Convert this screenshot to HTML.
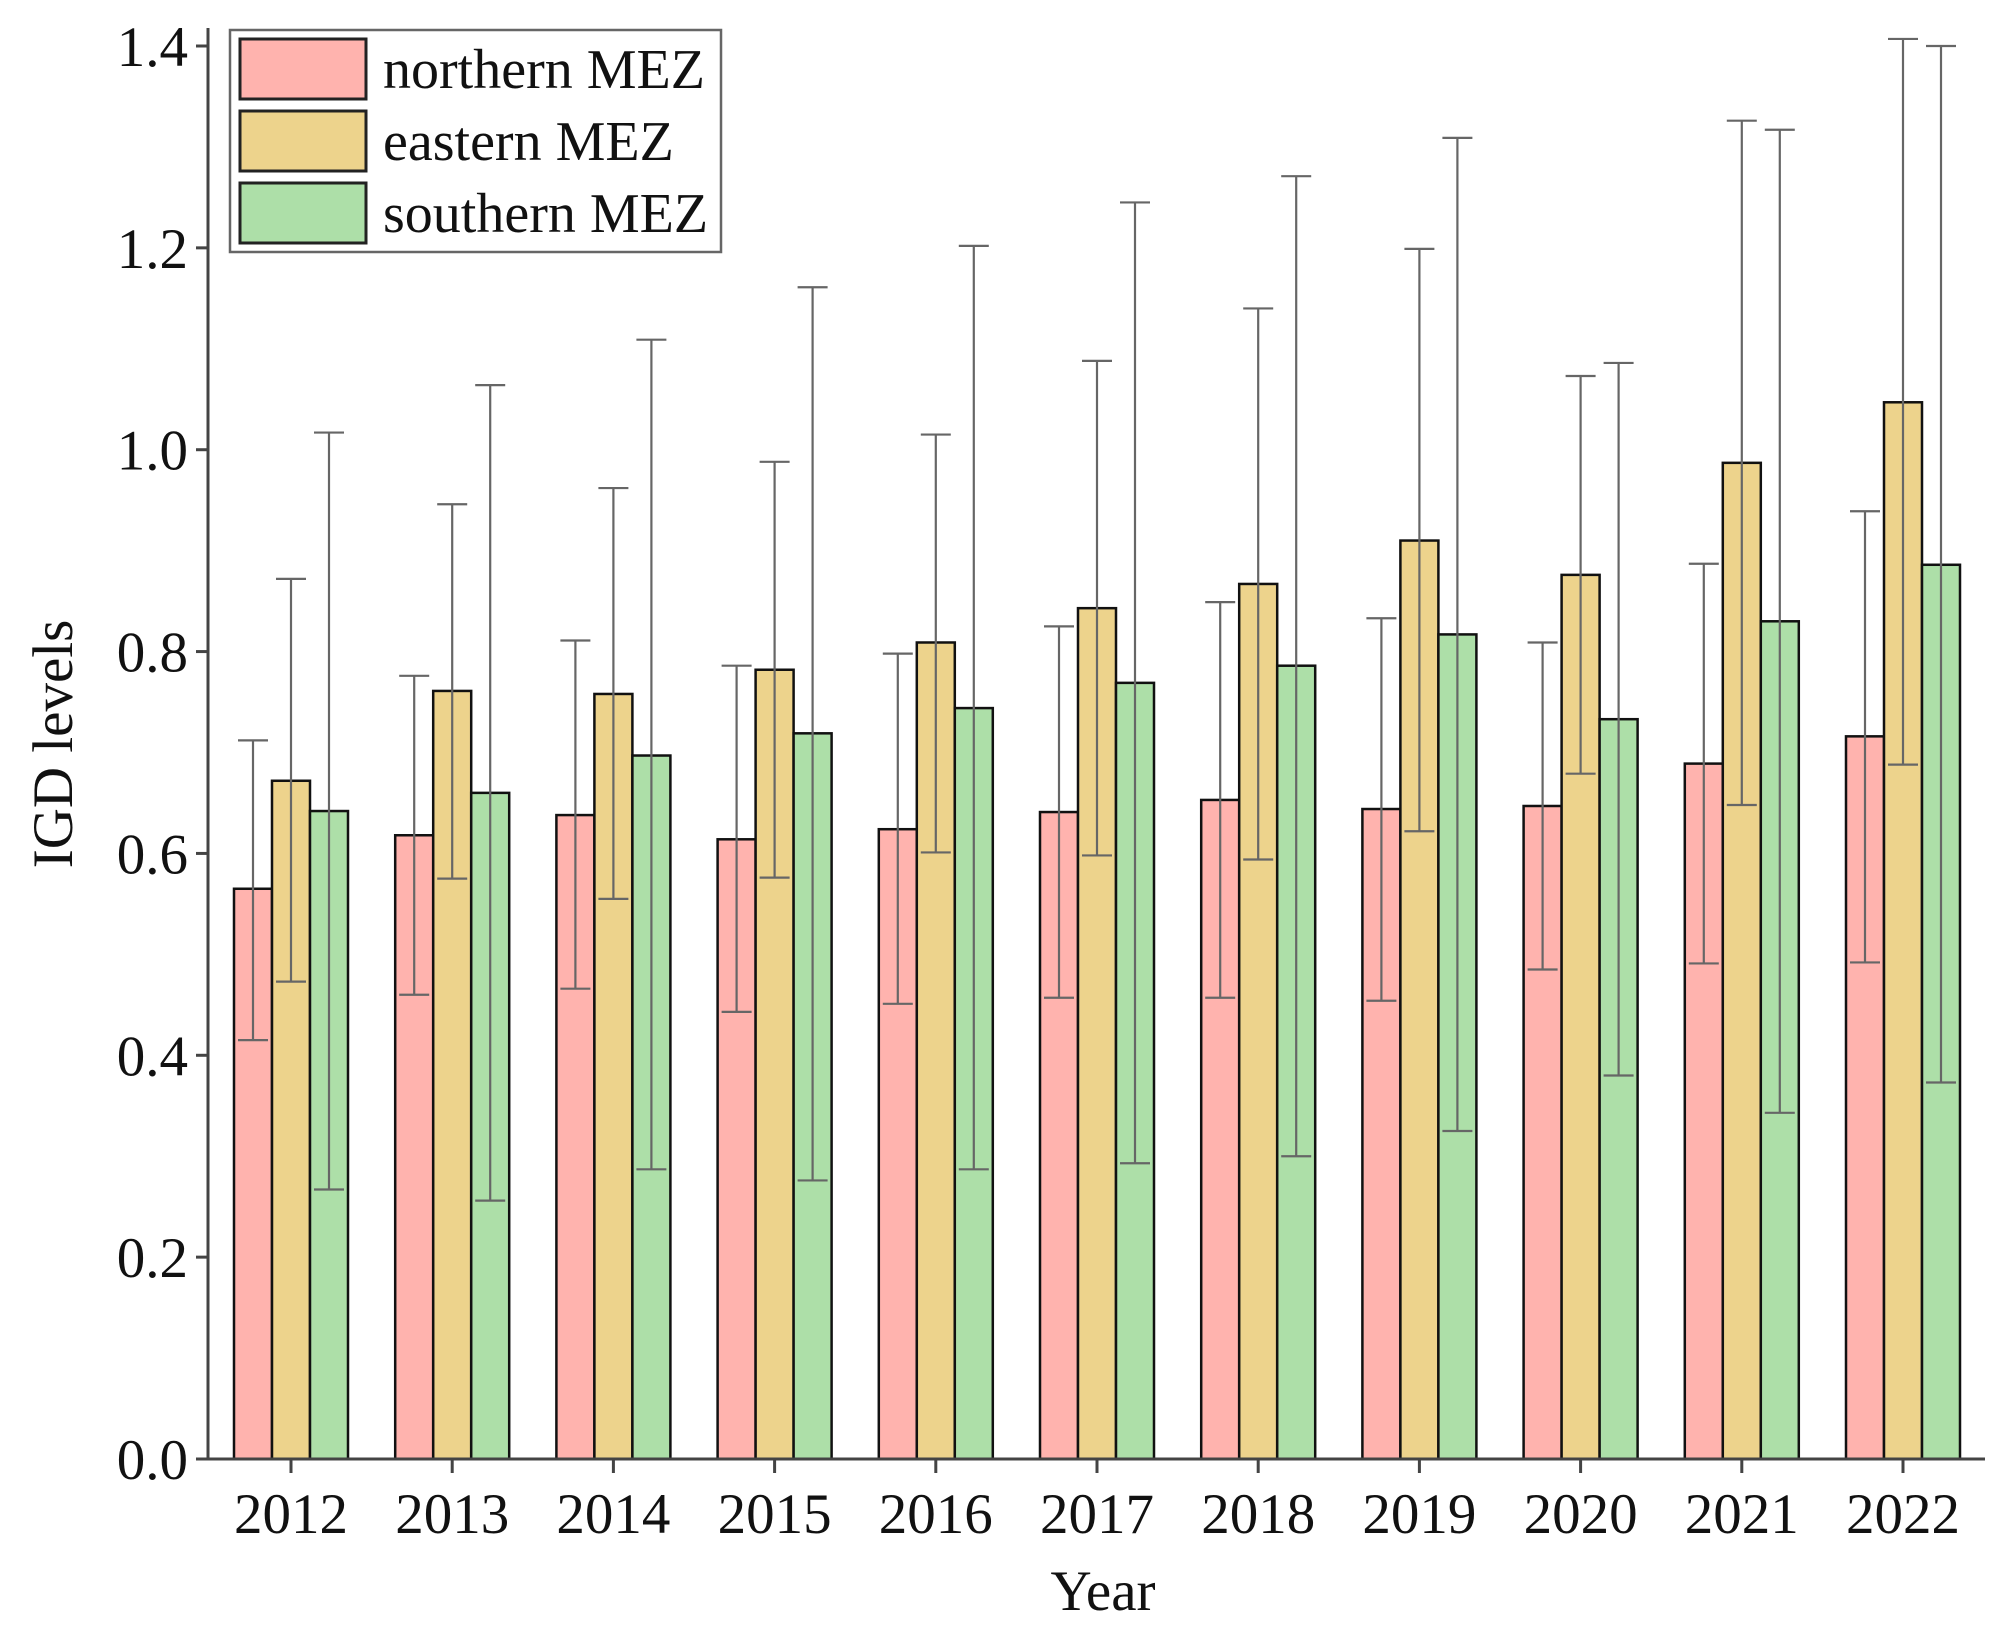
<!DOCTYPE html>
<html><head><meta charset="utf-8"><style>
html,body{margin:0;padding:0;background:#fff;}
svg{display:block;font-family:"Liberation Serif",serif;}
</style></head><body>
<svg id="chart" width="2012" height="1633" viewBox="0 0 2012 1633" xmlns="http://www.w3.org/2000/svg"></svg>
<script>
const years = ["2012","2013","2014","2015","2016","2017","2018","2019","2020","2021","2022"];
const seriesNames = ["northern MEZ","eastern MEZ","southern MEZ"];
const northMean = [0.565,0.618,0.638,0.614,0.624,0.641,0.653,0.644,0.647,0.689,0.716];
const northLow  = [0.415,0.460,0.466,0.443,0.451,0.457,0.457,0.454,0.485,0.491,0.492];
const northHigh = [0.712,0.776,0.811,0.786,0.798,0.825,0.849,0.833,0.809,0.887,0.939];
const eastMean  = [0.672,0.761,0.758,0.782,0.809,0.843,0.867,0.910,0.876,0.987,1.047];
const eastLow   = [0.473,0.575,0.555,0.576,0.601,0.598,0.594,0.622,0.679,0.648,0.688];
const eastHigh  = [0.872,0.946,0.962,0.988,1.015,1.088,1.140,1.199,1.073,1.326,1.407];
const southMean = [0.642,0.660,0.697,0.719,0.744,0.769,0.786,0.817,0.733,0.830,0.886];
const southLow  = [0.267,0.256,0.287,0.276,0.287,0.293,0.300,0.325,0.380,0.343,0.373];
const southHigh = [1.017,1.064,1.109,1.161,1.202,1.245,1.271,1.309,1.086,1.317,1.400];
const yTicks = [0.0,0.2,0.4,0.6,0.8,1.0,1.2,1.4];

const svg = document.getElementById('chart');
const NS = "http://www.w3.org/2000/svg";
const x0 = 208, yBase = 1459, yTop = 46, xEnd = 1985;
const firstC = 291, step = 161.2, barW = 38;
const y = v => yBase - v * (yBase - yTop) / 1.4;
const xc = i => firstC + i * step;
function mk(tag, attrs, parent) {
  const e = document.createElementNS(NS, tag);
  for (const k in attrs) e.setAttribute(k, attrs[k]);
  (parent || svg).appendChild(e);
  return e;
}
const colors = ["#ffb3ae","#edd38c","#addfa8"];
const means = [northMean, eastMean, southMean];
const lows = [northLow, eastLow, southLow];
const highs = [northHigh, eastHigh, southHigh];
const keys = ["northern","eastern","southern"];

for (let s = 0; s < 3; s++) {
  for (let i = 0; i < years.length; i++) {
    const bx = xc(i) + (s - 1) * barW - barW / 2;
    const r = mk('rect', {x: bx, y: y(means[s][i]), width: barW, height: yBase - y(means[s][i]), fill: colors[s], stroke: "#111", "stroke-width": 2.5});
    
    
  }
}
for (let s = 0; s < 3; s++) {
  for (let i = 0; i < years.length; i++) {
    const cx = xc(i) + (s - 1) * barW;
    const g = mk('g', {stroke: "#666", "stroke-width": 2.2, fill: "none"});
    
    
    mk('line', {x1: cx, x2: cx, y1: y(lows[s][i]), y2: y(highs[s][i])}, g);
    mk('line', {x1: cx - 15, x2: cx + 15, y1: y(lows[s][i]), y2: y(lows[s][i])}, g);
    mk('line', {x1: cx - 15, x2: cx + 15, y1: y(highs[s][i]), y2: y(highs[s][i])}, g);
  }
}
const ya = mk('line', {x1: x0, x2: x0, y1: yTop - 18, y2: yBase, stroke: "#444", "stroke-width": 3});


const xa = mk('line', {x1: x0 - 12, x2: xEnd, y1: yBase, y2: yBase, stroke: "#444", "stroke-width": 3});


yTicks.forEach(t => {
  const tl = mk('line', {x1: x0 - 12, x2: x0, y1: y(t), y2: y(t), stroke: "#444", "stroke-width": 3});
  
  
  const tx = mk('text', {x: x0 - 20, y: y(t) + 20, "text-anchor": "end", "font-size": 57, fill: "#111"});
  tx.textContent = t.toFixed(1);
  
  
});
years.forEach((yr, i) => {
  const tl = mk('line', {x1: xc(i), x2: xc(i), y1: yBase, y2: yBase + 14, stroke: "#444", "stroke-width": 3});
  
  
  const tx = mk('text', {x: xc(i), y: yBase + 74, "text-anchor": "middle", "font-size": 57, fill: "#111"});
  tx.textContent = yr;
  
  
});
const yt = mk('text', {x: 0, y: 0, transform: "translate(72,744) rotate(-90)", "text-anchor": "middle", "font-size": 57, fill: "#111"});
yt.textContent = "IGD levels";


const xt = mk('text', {x: 1103, y: 1610, "text-anchor": "middle", "font-size": 57, fill: "#111"});
xt.textContent = "Year";


const lg = mk('g', {});


mk('rect', {x: 230, y: 30, width: 491, height: 222, fill: "#fff", stroke: "#666", "stroke-width": 2.5}, lg);
const rowsY = [39, 111, 183];
seriesNames.forEach((n, s) => {
  const e = mk('g', {}, lg);
  
  
  mk('rect', {x: 240, y: rowsY[s], width: 126, height: 60, fill: colors[s], stroke: "#222", "stroke-width": 3}, e);
  const t = mk('text', {x: 383, y: rowsY[s] + 49, "font-size": 56, fill: "#111"}, e);
  t.textContent = n;
});
</script>
</body></html>
